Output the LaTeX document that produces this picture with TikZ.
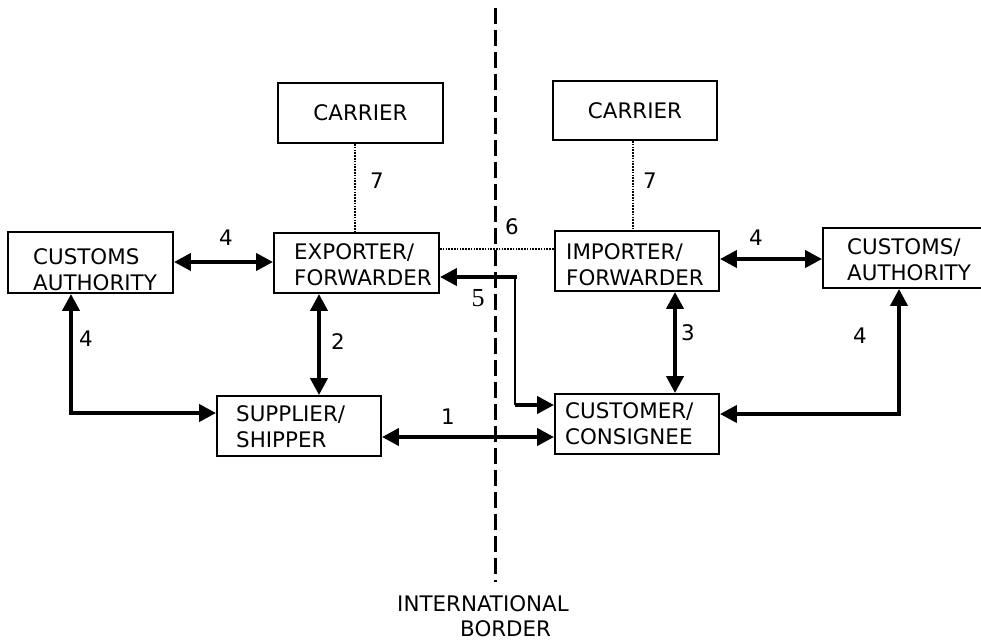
\documentclass[tikz,border=0pt]{standalone}
\usepackage{fontspec}
\setmainfont{DejaVu Sans}
\newfontfamily\numserif{Liberation Serif}
\usetikzlibrary{arrows.meta}
\begin{document}
\begin{tikzpicture}[x=1pt,y=-1pt,
  >={Triangle[length=17pt,width=17pt]},
  box/.style={draw, line width=1.9pt, inner sep=0pt},
  txt/.style={font=\fontsize{21.4}{26}\selectfont, inner sep=0pt, align=left},
  num/.style={font=\fontsize{21.4}{26}\selectfont, inner sep=0pt},
  arr/.style={line width=4pt},
  thinline/.style={line width=2.2pt},
  dotline/.style={line width=2.3pt, dash pattern=on 1.6pt off 1.2pt},
  border/.style={line width=3pt, dash pattern=on 16pt off 6pt}]
\useasboundingbox (0,0) rectangle (981,640);
\clip (0,0) rectangle (981,640);

% boxes
\node[box, minimum width=165pt, minimum height=60pt, txt] (carL) at (360.5,113) {CARRIER};
\node[box, minimum width=164pt, minimum height=59pt, txt] (carR) at (635,110.5) {CARRIER};
\node[box, minimum width=165pt, minimum height=61pt] (cusL) at (90.5,262.5) {};
\node[box, minimum width=165pt, minimum height=60pt] (exp) at (356.5,263) {};
\node[box, minimum width=164pt, minimum height=60pt] (sup) at (299,426) {};
\node[box, minimum width=164pt, minimum height=60pt] (imp) at (637,261) {};
\node[box, minimum width=164pt, minimum height=60pt] (cus) at (637,424) {};
\node[box, minimum width=167pt, minimum height=60pt] (cusR) at (906.5,258) {};

% box texts (anchored at the baseline of the last line)
\node[txt, anchor=base west] (tcusL) at (33,290) {CUSTOMS\\AUTHORITY};
\node[txt, anchor=base west] (texp) at (294,285) {EXPORTER/\\FORWARDER};
\node[txt, anchor=base west] (tsup) at (236,447) {SUPPLIER/\\SHIPPER};
\node[txt, anchor=base west] (timp) at (566,285) {IMPORTER/\\FORWARDER};
\node[txt, anchor=base west] (tcus) at (565,444) {CUSTOMER/\\CONSIGNEE};
\node[txt, anchor=base west] (tcusR) at (847,280) {CUSTOMS/\\AUTHORITY};

% border line
\coordinate (bt) at (495,8);
\coordinate (bb) at (495,582);
\draw[border] (bt) -- (bb);
\node[txt, anchor=base west] (intl) at (397,611.5) {INTERNATIONAL};
\node[txt, anchor=base west] (bord) at (460,636) {BORDER};

% helper coordinates
\coordinate (x7l) at (355,0);
\coordinate (x7r) at (633,0);
\coordinate (y6) at (0,249);
\coordinate (x2) at (319,0);
\coordinate (x3) at (675,0);
\coordinate (y1) at (0,437);
\coordinate (y4l) at (0,262);
\coordinate (y4r) at (0,259);
\coordinate (c4l) at (71,413);
\coordinate (c4r) at (899,414);
\coordinate (c5a) at (517,277);
\coordinate (c5b) at (515,277);
\coordinate (c5c) at (515,405);

% dotted links
\draw[dotline] (carL.south -| x7l) -- (exp.north -| x7l);
\draw[dotline] (carR.south -| x7r) -- (imp.north -| x7r);
\draw[dotline] (exp.east |- y6) -- (imp.west |- y6);

% arrows
\draw[arr,<->] (cusL.east |- y4l) -- (exp.west |- y4l);
\draw[arr,<->] (cusL.south -| c4l) |- (sup.west |- c4l);
\draw[arr,<->] (exp.south -| x2) -- (sup.north -| x2);
\draw[arr,<->] (sup.east |- y1) -- (cus.west |- y1);
\draw[arr,<->] (imp.south -| x3) -- (cus.north -| x3);
\draw[arr,<->] (imp.east |- y4r) -- (cusR.west |- y4r);
\draw[arr,<->] (cus.east |- c4r) -| (cusR.south -| c4r);
\draw[arr,->] (c5a) -- (exp.east |- c5a);
\draw[thinline] (c5b) -- (c5c);
\draw[arr,->] (c5c) -- (cus.west |- c5c);

% labels
\node[num] (l7a) at (377,181) {7};
\node[num] (l7b) at (650,181) {7};
\node[num] (l4a) at (226,238) {4};
\node[num] (l4b) at (86,339) {4};
\node[num] (l2) at (338,342) {2};
\node[num] (l1) at (448,417) {1};
\node[font=\numserif\fontsize{26}{26}\selectfont, inner sep=0pt] (l5) at (478,298) {5};
\node[num] (l6) at (512,227) {6};
\node[num] (l3) at (688,333) {3};
\node[num] (l4c) at (756,238) {4};
\node[num] (l4d) at (860,336) {4};
\end{tikzpicture}
\end{document}
